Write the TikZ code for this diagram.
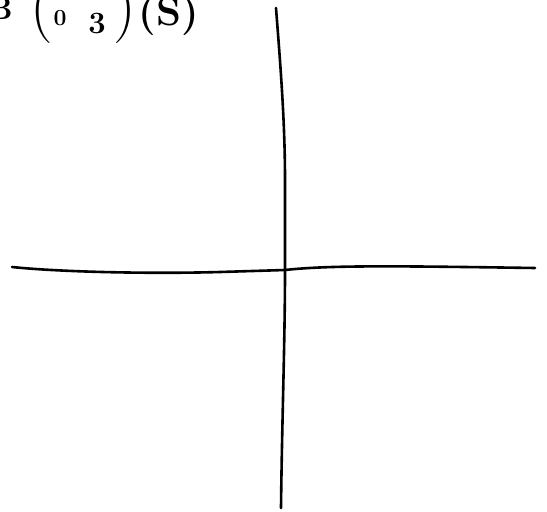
\documentclass[tikz,border=0pt]{standalone}
\usepackage{fontspec}
\begin{document}
\begin{tikzpicture}[x=1pt,y=-1pt,
  axis/.style={line width=2.6pt,line cap=round,line join=round,black},
  glyph/.style={inner sep=0pt,anchor=base}]
\useasboundingbox (0,0) rectangle (547,512);
\clip (0,0) rectangle (547,512);
% axes
\coordinate (ht) at (276,8);
\coordinate (o) at (285,270);
\coordinate (vb) at (281,508);
\coordinate (hl) at (12,267);
\coordinate (hr) at (535,268);
\draw[axis] (ht) .. controls (280,60) and (285,120) .. (285,180) -- (o)
  .. controls (285,340) and (282,420) .. (vb);
\draw[axis] (hl) .. controls (60,272) and (150,274) .. (220,272) -- (o)
  .. controls (330,265) and (400,266) .. (hr);
% cropped handwritten expression
\node[glyph,anchor=base east,font=\bfseries\fontsize{32}{36}\selectfont] (b) at (13,19) {B};
\node[glyph,anchor=base east,font=\fontsize{64}{70}\selectfont] (lp) at (53,27) {(};
\node[glyph,font=\bfseries\fontsize{23}{26}\selectfont] (n0) at (60,25) {0};
\node[glyph,font=\bfseries\fontsize{31}{34}\selectfont] (n3) at (97,33) {3};
\node[glyph,anchor=base west,font=\fontsize{64}{70}\selectfont] (rp) at (113,27) {)};
\node[glyph,font=\bfseries\fontsize{40}{44}\selectfont] (s) at (169,25) {(S)};
\end{tikzpicture}
\end{document}
